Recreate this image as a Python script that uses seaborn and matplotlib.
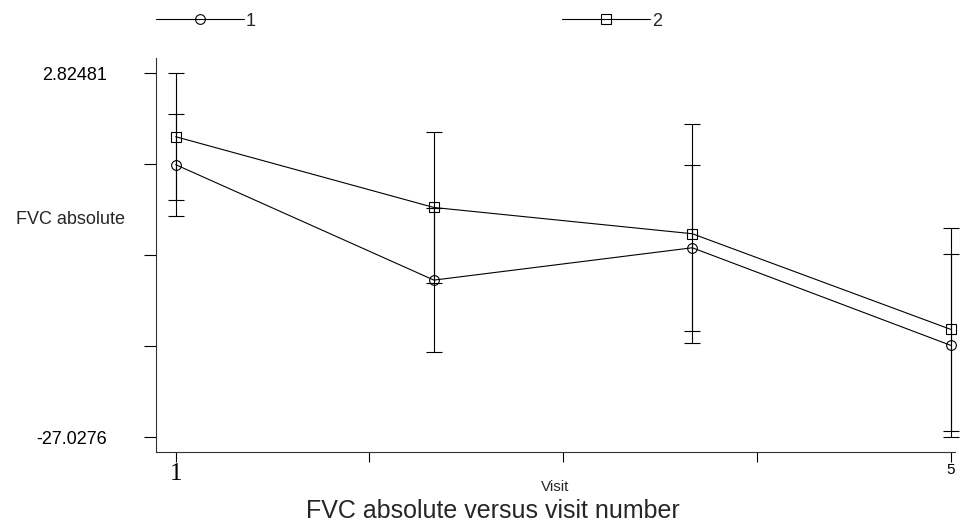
import numpy as np
import pandas as pd
import matplotlib
matplotlib.use("Agg")
import matplotlib.pyplot as plt
import seaborn as sns

# Mean FVC change per visit with error half-widths, for the two groups
visits = [1, 2.333, 3.667, 5]
group_labels = ["1", "2"]
mean_1 = [-4.68, -14.14, -11.49, -19.48]
err_1 = [4.17, 5.93, 6.82, 7.48]
mean_2 = [-2.39, -8.19, -10.34, -18.17]
err_2 = [5.19, 6.22, 8.96, 8.30]

y_top = 2.82481
y_bottom = -27.0276
x_tick_values = [1, 2, 3, 4, 5]

df = pd.DataFrame({
    "visit": visits * 2,
    "fvc": mean_1 + mean_2,
    "err": err_1 + err_2,
    "group": [group_labels[0]] * len(visits) + [group_labels[1]] * len(visits),
})

sns.set_style("ticks")
plt.rcParams["font.family"] = ["Liberation Sans", "DejaVu Sans"]

W, H = 960, 526
fig = plt.figure(figsize=(W / 100, H / 100), dpi=100)
ax = fig.add_axes([155.7 / W, (H - 452) / H, 799.3 / W, 394 / H])

sns.lineplot(
    data=df, x="visit", y="fvc", style="group",
    markers={"1": "o", "2": "s"}, dashes=False, color="black",
    linewidth=0.8, markersize=7, markerfacecolor="none",
    markeredgecolor="black", markeredgewidth=0.8, ax=ax, legend=False,
    sort=False,
)
series_lines = list(ax.lines)
for ln in series_lines:
    ln.set_clip_on(False)

for g in group_labels:
    sub = df[df["group"] == g]
    eb = ax.errorbar(sub["visit"], sub["fvc"], yerr=sub["err"], fmt="none",
                     ecolor="black", elinewidth=0.8, capsize=5.8, capthick=0.8,
                     zorder=1)
    for art in eb.lines[1]:
        art.set_clip_on(False)
    for art in eb.lines[2]:
        art.set_clip_on(False)

# axes limits: a little headroom above the top tick and below the bottom one
step = (y_top - y_bottom) / 4
ax.set_ylim(y_bottom - step * 0.16, y_top + step * 0.165)
ax.set_xlim(0.897, 5.023)
ax.set_yticks(np.linspace(y_top, y_bottom, 5))
ax.set_yticklabels([f"{y_top:g}", "", "", "", f"{y_bottom:g}"], fontsize=13)
ax.set_xticks(x_tick_values)
ax.set_xticklabels([str(x_tick_values[0]), "", "", "", str(x_tick_values[-1])])
xl = ax.get_xticklabels()
xl[0].set_fontfamily(["Liberation Serif", "DejaVu Serif"])
xl[0].set_fontsize(18)
xl[-1].set_fontsize(11)

ax.tick_params(axis="y", direction="out", length=9, width=0.8, pad=26, colors="black")
ax.tick_params(axis="x", direction="out", length=7.2, width=0.8, pad=1, colors="black")
for side in ["top", "right"]:
    ax.spines[side].set_visible(False)
for side in ["left", "bottom"]:
    ax.spines[side].set_linewidth(0.8)
    ax.spines[side].set_color("#333333")

ax.set_ylabel("FVC absolute", rotation=0, ha="right", va="center", fontsize=13)
ax.yaxis.set_label_coords(-0.0384, 0.589)
ax.set_xlabel("Visit", fontsize=11)
ax.xaxis.set_label_coords(0.5, -0.09)
ax.xaxis.label.set_va("center")

fig.text(493 / W, 1 - 511 / H, "FVC absolute versus visit number",
         ha="center", va="center", fontsize=18)

fig.legend(series_lines, group_labels, ncol=2, loc="center left",
           bbox_to_anchor=(155.7 / W, 1 - 21 / H), frameon=False,
           handlelength=4.87, handletextpad=0.1, columnspacing=17,
           borderpad=0, borderaxespad=0, fontsize=13)

fig.savefig("out.png", dpi=100, facecolor="white")
